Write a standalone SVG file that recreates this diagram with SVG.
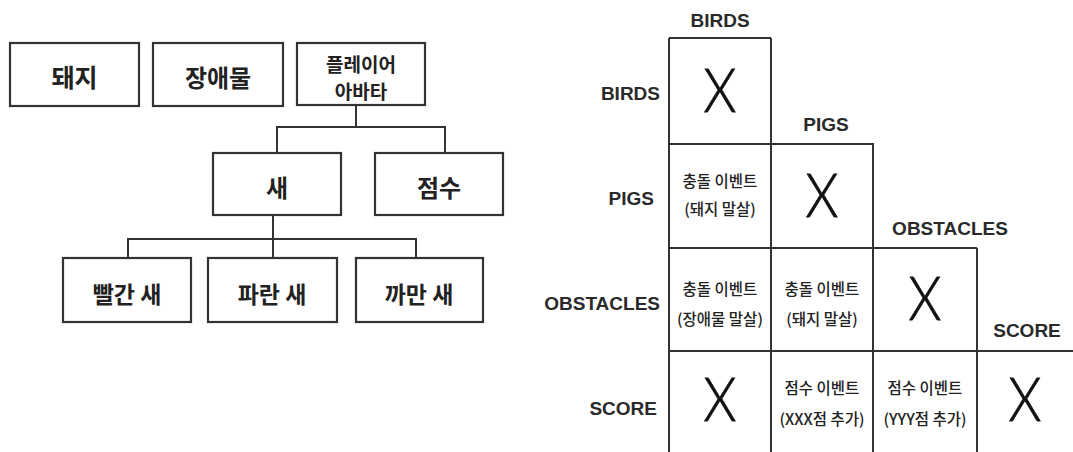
<svg xmlns="http://www.w3.org/2000/svg" width="1073" height="452" viewBox="0 0 1073 452">
<style>
.box{fill:#fff;stroke:#333;stroke-width:2.2}
.ln{fill:none;stroke:#333;stroke-width:2}
.kb{font-family:"Noto Sans CJK KR","Noto Sans",sans-serif;font-weight:700;fill:#222;text-anchor:middle;dominant-baseline:central}
.kc{font-family:"Noto Sans CJK KR","Noto Sans",sans-serif;font-weight:500;font-size:15.5px;fill:#222;text-anchor:middle;dominant-baseline:central}
.en{font-family:"Liberation Sans",Arial,sans-serif;font-weight:700;font-size:19px;fill:#2a2a2a;dominant-baseline:central}
.x{font-family:Lato,"DejaVu Sans",sans-serif;font-weight:300;font-size:62px;fill:#111;stroke:#111;stroke-width:0.9;text-anchor:middle;dominant-baseline:central}
</style>
<rect width="1073" height="452" fill="#fff"/>
<g id="connectors">
<path class="ln" d="M356 105V127M277 152V127H445V152"/>
<path class="ln" d="M273 215V239M128 258V239H416V258M273 239V258"/>
</g>
<g id="pig"><rect class="box" x="10" y="43" width="129" height="63"/><text class="kb" x="74.5" y="76" font-size="25">돼지</text></g>
<g id="obstacle"><rect class="box" x="153" y="43" width="130" height="63"/><text class="kb" x="218" y="76" font-size="24">장애물</text></g>
<g id="player"><rect class="box" x="297" y="43" width="128" height="62"/><text class="kb" x="361" y="63" font-size="19" font-weight="500">플레이어</text><text class="kb" x="361" y="90" font-size="19" font-weight="500">아바타</text></g>
<g id="bird"><rect class="box" x="213" y="153" width="128" height="62"/><text class="kb" x="277" y="186" font-size="24">새</text></g>
<g id="score"><rect class="box" x="375" y="153" width="128" height="62"/><text class="kb" x="439" y="186" font-size="24">점수</text></g>
<g id="redbird"><rect class="box" x="63" y="258" width="128" height="64"/><text class="kb" x="127" y="293" font-size="23">빨간 새</text></g>
<g id="bluebird"><rect class="box" x="208" y="258" width="129" height="64"/><text class="kb" x="272" y="293" font-size="23">파란 새</text></g>
<g id="blackbird"><rect class="box" x="356" y="258" width="127" height="64"/><text class="kb" x="419" y="293" font-size="23">까만 새</text></g>
<g id="matrix">
<path class="ln" d="M669 38H771M669 144H873M669 248H977M669 351H1073M669 38V452M771 38V452M873 143V452M977 248V452"/>
<text class="en" x="720" y="20" text-anchor="middle">BIRDS</text>
<text class="en" x="826" y="124" text-anchor="middle">PIGS</text>
<text class="en" x="950" y="228" text-anchor="middle">OBSTACLES</text>
<text class="en" x="1027" y="330" text-anchor="middle">SCORE</text>
<text class="en" x="660" y="93" text-anchor="end">BIRDS</text>
<text class="en" x="654" y="198" text-anchor="end">PIGS</text>
<text class="en" x="660" y="303" text-anchor="end">OBSTACLES</text>
<text class="en" x="657" y="408" text-anchor="end">SCORE</text>
<text class="x" transform="translate(720 88) scale(0.85 1)">X</text>
<text class="x" transform="translate(822 193) scale(0.85 1)">X</text>
<text class="x" transform="translate(925 296) scale(0.85 1)">X</text>
<text class="x" transform="translate(720 397) scale(0.85 1)">X</text>
<text class="x" transform="translate(1025 397) scale(0.85 1)">X</text>
<text class="kc" x="720" y="180">충돌 이벤트</text>
<text class="kc" x="720" y="208">(돼지 말살)</text>
<text class="kc" x="720" y="288">충돌 이벤트</text>
<text class="kc" x="720" y="318">(장애물 말살)</text>
<text class="kc" x="822" y="288">충돌 이벤트</text>
<text class="kc" x="822" y="318">(돼지 말살)</text>
<text class="kc" x="822" y="387">점수 이벤트</text>
<text class="kc" x="822" y="418">(XXX점 추가)</text>
<text class="kc" x="925" y="387">점수 이벤트</text>
<text class="kc" x="925" y="418">(YYY점 추가)</text>
</g>
</svg>
